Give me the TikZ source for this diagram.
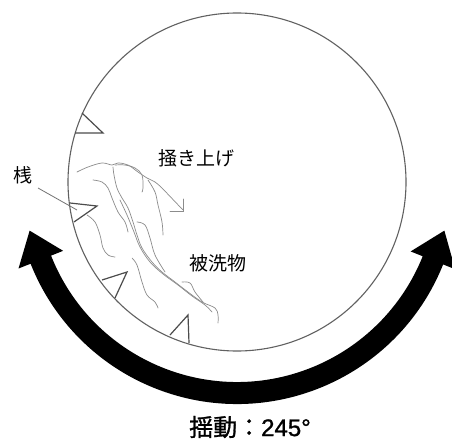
\documentclass[tikz,border=0pt]{standalone}
\usepackage{fontspec}
\newfontfamily\jp{Noto Sans CJK JP}
\newfontfamily\jpheavy{Noto Sans CJK JP}[FakeBold=1.2]
\newfontfamily\numfont{Liberation Sans}[FakeBold=1.2]
\usetikzlibrary{calc}

\begin{document}
\begin{tikzpicture}[x=1pt,y=1pt,
  drum/.style={draw=black!62, line width=1.1},
  paddle/.style={draw=black!70, line width=1.2, line join=miter},
  strand/.style={draw=black!45, line width=0.7, line cap=round},
  label/.style={font=\jp\fontsize{19}{19}\selectfont, inner sep=0pt},
  leader/.style={draw=black!55, line width=0.8}]

\useasboundingbox (0,0) rectangle (452,-441);
\fill[white] (0,0) rectangle (452,-441);

% drum centre
\coordinate (C) at (237,-182);

% swing arrow (double headed thick arc under the drum)
\begin{scope}[shift={(C)}]
  \fill[black] (201.6:222) -- (201.6:235) -- (193.2:213) -- (201.6:187) -- (201.6:200)
    arc[start angle=201.6, end angle=338.2, radius=200]
    -- (338.2:187) -- (346.8:213) -- (338.2:235) -- (338.2:222)
    arc[start angle=338.2, end angle=201.6, radius=222] -- cycle;
\end{scope}

% drum wall
\draw[drum] (C) circle[radius=169];

% paddles on the drum wall
\draw[paddle] (82,-113) -- (103,-133) -- (75,-133);
\draw[paddle] (70,-203) -- (97,-206) -- (74,-222);
\draw[paddle] (102,-280) -- (127,-272) -- (115,-298);
\draw[paddle] (170,-335) -- (188,-315) -- (189,-343);

% laundry strands
\draw[strand] plot[smooth, tension=0.6] coordinates {(77,-172) (88,-167) (102,-163) (112,-165) (118,-163) (128,-165) (138,-172) (147,-178) (155,-182) (162,-188)} -- (183,-210);
\draw[strand] (170,-211) -- (183,-211) -- (183,-199);
\draw[strand] plot[smooth, tension=0.6] coordinates {(113,-167) (114,-175) (117,-188) (122,-198) (128,-208) (133,-222) (137,-235) (142,-248) (152,-262) (162,-272) (175,-282) (188,-292) (202,-302) (215,-308) (218,-315) (218,-323)};
\draw[strand] plot[smooth, tension=0.6] coordinates {(120,-200) (127,-215) (134,-232) (140,-247) (150,-262) (163,-274) (178,-285) (192,-296) (205,-305) (212,-312)};
\draw[strand] plot[smooth, tension=0.6] coordinates {(115,-165) (125,-165) (135,-168) (142,-175) (143,-188) (142,-192)};
\draw[strand] plot[smooth, tension=0.6] coordinates {(93,-180) (102,-182) (108,-188) (112,-198) (118,-212) (125,-222) (128,-232)};
\draw[strand] plot[smooth, tension=0.6] coordinates {(148,-180) (155,-192) (158,-205) (162,-222) (163,-235)};
\draw[strand] plot[smooth, tension=0.6] coordinates {(137,-222) (145,-225) (150,-238) (155,-255) (165,-272)};
\draw[strand] plot[smooth, tension=0.6] coordinates {(87,-215) (95,-222) (100,-235) (103,-248) (108,-255) (115,-257)};
\draw[strand] plot[smooth, tension=0.6] coordinates {(132,-258) (137,-265) (142,-282) (147,-295) (155,-302) (158,-308)};
\draw[strand] plot[smooth, tension=0.6] coordinates {(182,-282) (190,-283) (195,-292) (203,-302)};

% labels
\node[label] (pad) at (23,-175) {桟};
\node[label] (lift) at (196,-158) {掻き上げ};
\node[label] (load) at (218,-263) {被洗物};
\node[inner sep=0pt, font=\fontsize{24}{24}\selectfont] (swing) at (250,-427)
  {{\jpheavy 揺動：}{\numfont 245°}};

% leader from the paddle label
\coordinate (padA) at (38,-188);
\coordinate (padB) at (77,-210);
\draw[leader] (padA) -- (padB);
\end{tikzpicture}
\end{document}
